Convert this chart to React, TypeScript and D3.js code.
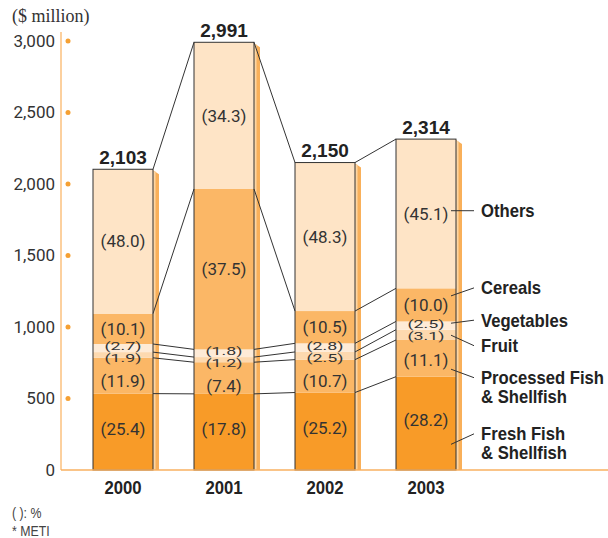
import { useEffect, useRef } from "react";
import * as d3 from "d3";

// Fishery/food imports by category, $ million totals with % shares
const years = ["2000", "2001", "2002", "2003"];
const totals = [2103, 2991, 2150, 2314];
const categoryKeys = ["fresh", "processed", "fruit", "vegetables", "cereals", "others"];
const categoryLabels = [
    ["Fresh Fish", "& Shellfish"],
    ["Processed Fish", "& Shellfish"],
    ["Fruit"],
    ["Vegetables"],
    ["Cereals"],
    ["Others"],
];
const freshFish = [25.4, 17.8, 25.2, 28.2];
const processedFish = [11.9, 7.4, 10.7, 11.1];
const fruit = [1.9, 1.2, 2.5, 3.1];
const vegetables = [2.7, 1.8, 2.8, 2.5];
const cereals = [10.1, 37.5, 10.5, 10.0];
const others = [48.0, 34.3, 48.3, 45.1];
const yTicks = [0, 500, 1000, 1500, 2000, 2500, 3000];

const colors: Record<string, string> = {
    fresh: "#F89B28",
    processed: "#FBB766",
    fruit: "#FDD9AF",
    vegetables: "#FEEBD7",
    cereals: "#FBB766",
    others: "#FEE4C6",
};

const SANS = "'Liberation Sans', Arial, sans-serif";
const ROBOTO = "Roboto, 'Liberation Sans', sans-serif";

export default function App() {
    const svgRef = useRef<SVGSVGElement | null>(null);

    useEffect(() => {
        if (!svgRef.current) return;
        const svg = d3.select(svgRef.current);
        svg.selectAll("*").remove();

        const shares: Record<string, number[]> = {
            fresh: freshFish,
            processed: processedFish,
            fruit: fruit,
            vegetables: vegetables,
            cereals: cereals,
            others: others,
        };
        const rows = years.map((yr, i) => {
            const r: any = { year: yr };
            categoryKeys.forEach((k) => (r[k] = (totals[i] * shares[k][i]) / 100));
            return r;
        });
        const series = d3.stack<any>().keys(categoryKeys)(rows);

        const x = d3.scalePoint<string>().domain(years).range([123, 426]);
        const y = d3.scaleLinear().domain([0, 3000]).range([470, 41]);
        const barW = 60;
        const half = barW / 2;

        const text = (
            g: any, px: number, py: number, str: string,
            o: { size: number; family: string; weight?: string; anchor?: string; sx?: number; sy?: number; fill?: string }
        ) => {
            g.append("text")
                .attr("transform", `translate(${px},${py}) scale(${o.sx ?? 1},${o.sy ?? 1})`)
                .attr("y", 0.35 * o.size)
                .attr("font-size", o.size)
                .attr("font-family", o.family)
                .attr("font-weight", o.weight ?? "normal")
                .attr("text-anchor", o.anchor ?? "start")
                .attr("fill", o.fill ?? "#333")
                .text(str);
        };

        // bar shadows
        years.forEach((yr, i) => {
            const r = x(yr)! + half;
            const top = y(totals[i]);
            const base = y(0);
            svg.append("polygon")
                .attr("points", `${r},${top + 1} ${r + 6},${top + 5} ${r + 6},${base} ${r},${base}`)
                .attr("fill", "#F9B05A");
            svg.append("rect")
                .attr("x", r).attr("y", top + 2)
                .attr("width", 2.5).attr("height", base - top - 2)
                .attr("fill", "#FDD5A2");
        });

        // stacked segments
        series.forEach((s) => {
            svg.append("g")
                .selectAll("rect")
                .data(s)
                .enter()
                .append("rect")
                .attr("x", (d: any) => x(d.data.year)! - half)
                .attr("y", (d) => y(d[1]))
                .attr("width", barW)
                .attr("height", (d) => y(d[0]) - y(d[1]))
                .attr("fill", colors[s.key]);
        });

        // bar outlines
        years.forEach((yr, i) => {
            svg.append("rect")
                .attr("x", x(yr)! - half)
                .attr("y", y(totals[i]))
                .attr("width", barW)
                .attr("height", y(0) - y(totals[i]))
                .attr("fill", "none")
                .attr("stroke", "#333")
                .attr("stroke-width", 1);
        });

        // connector lines between bars
        series.forEach((s) => {
            for (let i = 0; i < years.length - 1; i++) {
                svg.append("line")
                    .attr("x1", x(years[i])! + half)
                    .attr("y1", y(s[i][1]))
                    .attr("x2", x(years[i + 1])! - half)
                    .attr("y2", y(s[i + 1][1]))
                    .attr("stroke", "#333")
                    .attr("stroke-width", 1);
            }
        });

        // axis
        svg.append("line")
            .attr("x1", 61).attr("x2", 61)
            .attr("y1", 32).attr("y2", y(0))
            .attr("stroke", "#FBC17E").attr("stroke-width", 1.5);
        svg.append("line")
            .attr("x1", 61).attr("x2", 608)
            .attr("y1", y(0)).attr("y2", y(0))
            .attr("stroke", "#F9B060").attr("stroke-width", 1.5);

        yTicks.forEach((t) => {
            if (t > 0) {
                svg.append("circle")
                    .attr("cx", 68).attr("cy", y(t)).attr("r", 2.5)
                    .attr("fill", "#F5A033");
            }
            text(svg, 55, y(t), d3.format(",")(t), { size: 17, family: ROBOTO, anchor: "end", fill: "#333" });
        });

        text(svg, 12, 16, "($ million)", { size: 18, family: "'Liberation Serif', 'Times New Roman', serif", fill: "#333" });

        // year labels
        years.forEach((yr) => {
            text(svg, x(yr)!, 487, yr, { size: 19, family: SANS, weight: "bold", anchor: "middle", sx: 0.88, fill: "#222" });
        });

        // totals above bars
        years.forEach((yr, i) => {
            text(svg, x(yr)!, y(totals[i]) - 12, d3.format(",")(totals[i]), {
                size: 19, family: SANS, weight: "bold", anchor: "middle", fill: "#222",
            });
        });

        // segment labels
        const fmt = (v: number) => `(${d3.format(".1f")(v)})`;
        const labelY: Record<string, number>[] = years.map((_, i) => {
            const c = (k: number) => (y(series[k][i][0]) + y(series[k][i][1])) / 2;
            let vegY = c(3);
            let fruitY = c(2);
            if (fruitY - vegY < 12) {
                const mid = (fruitY + vegY) / 2 + 0.5;
                vegY = mid - 6;
                fruitY = mid + 6;
            }
            return {
                fresh: c(0) - 3,
                processed: Math.max(c(1), fruitY + 23),
                fruit: fruitY,
                vegetables: vegY,
                cereals: c(4),
                others: c(5),
                freshCenter: c(0),
            };
        });

        years.forEach((yr, i) => {
            const cx = x(yr)!;
            categoryKeys.forEach((k) => {
                const v = shares[k][i];
                const small = k === "fruit" || k === "vegetables";
                text(svg, cx, labelY[i][k], fmt(v), {
                    size: 17, family: ROBOTO, anchor: "middle",
                    sx: small ? 1.05 : 1, sy: small ? 0.6 : 1, fill: "#333",
                });
            });
        });

        // legend with leaders off the last bar
        const last = years.length - 1;
        const lx = x(years[last])! + half;
        const lastY = labelY[last];
        const leaders: Record<string, { start: number; legend: number }> = {
            fresh: { start: lastY.freshCenter + 21, legend: lastY.freshCenter + 10.5 },
            processed: { start: lastY.processed + 9.5, legend: lastY.processed + 18 },
            fruit: { start: lastY.fruit - 1.5, legend: lastY.fruit + 9 },
            vegetables: { start: lastY.vegetables - 1.5, legend: lastY.vegetables - 4.5 },
            cereals: { start: lastY.cereals - 9, legend: lastY.cereals - 17 },
            others: { start: lastY.others - 3, legend: lastY.others - 3 },
        };
        categoryKeys.forEach((k, ci) => {
            const L = leaders[k];
            svg.append("line")
                .attr("x1", lx - 5).attr("y1", L.start)
                .attr("x2", lx + 18).attr("y2", L.legend)
                .attr("stroke", "#333").attr("stroke-width", 1);
            categoryLabels[ci].forEach((line, li) => {
                text(svg, lx + 25, L.legend + li * 19, line, {
                    size: 18.5, family: SANS, weight: "bold", sx: 0.9, fill: "#222",
                });
            });
        });

        // footnotes
        text(svg, 12, 513, "( ): %", { size: 14, family: SANS, sx: 0.88, fill: "#444" });
        text(svg, 12, 531, "* METI", { size: 14, family: SANS, sx: 0.88, fill: "#444" });
    }, []);

    return (
        <svg
            ref={svgRef}
            width={608}
            height={538}
            viewBox="0 0 608 538"
            style={{ position: "absolute", left: 0, top: 0, background: "#fff" }}
        />
    );
}
